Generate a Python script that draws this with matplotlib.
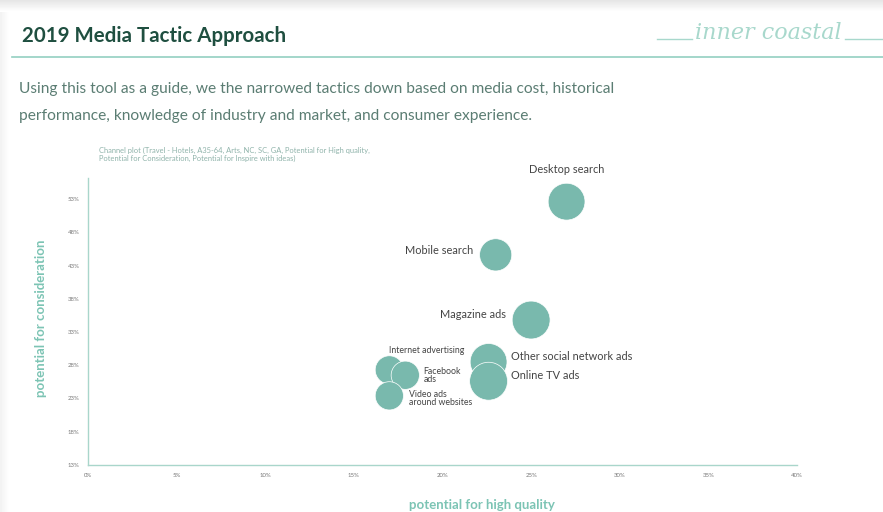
import matplotlib
matplotlib.use("Agg")
import matplotlib.pyplot as plt
import numpy as np
from matplotlib.lines import Line2D

# ---- data ----
channels = ["Desktop search", "Mobile search", "Magazine ads", "Other social network ads",
            "Online TV ads", "Internet advertising", "Facebook\nads", "Video ads\naround websites"]
high_quality = [27.0, 23.0, 25.0, 22.6, 22.6, 17.0, 17.9, 17.0]
consideration = [52.6, 44.6, 34.8, 28.5, 25.6, 27.3, 26.5, 23.4]
inspire = [34, 26, 36, 34, 36, 20, 20, 20]
x_ticks = [0, 5, 10, 15, 20, 25, 30, 35, 40]
y_ticks = [13, 18, 23, 28, 33, 38, 43, 48, 53]

W, H = 883, 512
fig = plt.figure(figsize=(W / 100, H / 100), dpi=100)
fig.patch.set_facecolor("white")

def fx(px):
    return px / W

def fy(py):
    return 1 - py / H

# shadow band at top / left
bg = fig.add_axes([0, 0, 1, 1], zorder=-5)
bg.axis("off")
grad = np.linspace(0.90, 1.0, 12).reshape(-1, 1)
bg.imshow(np.repeat(grad, 2, axis=1), cmap="gray", vmin=0, vmax=1, extent=[0, W, 12, 0], aspect="auto")
gradl = np.linspace(0.95, 1.0, 10).reshape(1, -1)
bg.imshow(np.repeat(gradl, 2, axis=0), cmap="gray", vmin=0, vmax=1, extent=[0, 10, H, 12], aspect="auto")
bg.set_xlim(0, W); bg.set_ylim(H, 0)

teal = "#79b9ad"
teal_line = "#93cfc1"
label_teal = "#7cc4b4"
font = "Lato"

# header
fig.text(fx(22), fy(36), "2019 Media Tactic Approach", fontsize=14.8, fontweight="bold",
         color="#1f4f40", family=font, va="center", ha="left")
fig.add_artist(Line2D([fx(12), 1], [fy(57), fy(57)], color=teal_line, lw=1.2))
# logo
fig.add_artist(Line2D([fx(657), fx(692)], [fy(39), fy(39)], color="#a8d8cc", lw=1.0))
fig.add_artist(Line2D([fx(845), fx(883)], [fy(39), fy(39)], color="#a8d8cc", lw=1.0))
fig.text(fx(768), fy(33), "inner coastal", fontsize=16, style="italic", color="#a8d8cc",
         family="DejaVu Serif", va="center", ha="center")

fig.text(fx(19), fy(89), "Using this tool as a guide, we the narrowed tactics down based on media cost, historical",
         fontsize=11.2, color="#5b7d73", family=font, va="center", ha="left")
fig.text(fx(19), fy(116), "performance, knowledge of industry and market, and consumer experience.",
         fontsize=11.2, color="#5b7d73", family=font, va="center", ha="left")

fig.text(fx(99), fy(150), "Channel plot (Travel - Hotels, A35-64, Arts, NC, SC, GA, Potential for High quality,",
         fontsize=5.4, color="#8fb3aa", family=font, va="center", ha="left")
fig.text(fx(99), fy(158), "Potential for Consideration, Potential for Inspire with ideas)",
         fontsize=5.4, color="#8fb3aa", family=font, va="center", ha="left")

# chart
ax = fig.add_axes([fx(88), fy(465), fx(797 - 88), (465 - 178) / H])
ax.set_xlim(0, 40)
ax.set_ylim(13, 13 + (465 - 178) / 6.65)
ax.set_facecolor("none")
for s in ["top", "right"]:
    ax.spines[s].set_visible(False)
for s in ["left", "bottom"]:
    ax.spines[s].set_color("#a9d6cb")
    ax.spines[s].set_linewidth(1.0)
ax.set_xticks(x_ticks)
ax.set_xticklabels([f"{v}%" for v in x_ticks])
ax.set_yticks(y_ticks)
ax.set_yticklabels([f"{v}%" for v in y_ticks])
ax.tick_params(length=0, labelsize=4.3, labelcolor="#777777", pad=6)
for t in ax.get_xticklabels() + ax.get_yticklabels():
    t.set_family(font)

sizes = [20.7 * v for v in inspire]
ax.scatter(high_quality, consideration, s=sizes, color=teal, edgecolors="white", linewidths=0.5,
           zorder=3, clip_on=False)

label_cfg = [
    ((0, 19), "center", "bottom", 7.9),
    ((-16, 3), "right", "center", 7.9),
    ((-18, 4), "right", "center", 7.9),
    ((16, 4), "left", "center", 7.9),
    ((16, 4), "left", "center", 7.9),
    ((27, 11), "center", "bottom", 6.3),
    ((13, 0), "left", "center", 6.3),
    ((14, -2), "left", "center", 6.3),
]
for name, xv, yv, (off, ha, va, fs) in zip(channels, high_quality, consideration, label_cfg):
    ax.annotate(name, (xv, yv), xytext=off, textcoords="offset points", ha=ha, va=va,
                fontsize=fs, color="#444444", family=font, linespacing=0.85, zorder=4)

fig.text(fx(41), fy(318), "potential for consideration", rotation=90, fontsize=9.5, fontweight="bold",
         color=label_teal, family=font, va="center", ha="center")
fig.text(fx(482), fy(505), "potential for high quality", fontsize=9.5, fontweight="bold",
         color=label_teal, family=font, va="center", ha="center")

fig.savefig("out.png", dpi=100)
